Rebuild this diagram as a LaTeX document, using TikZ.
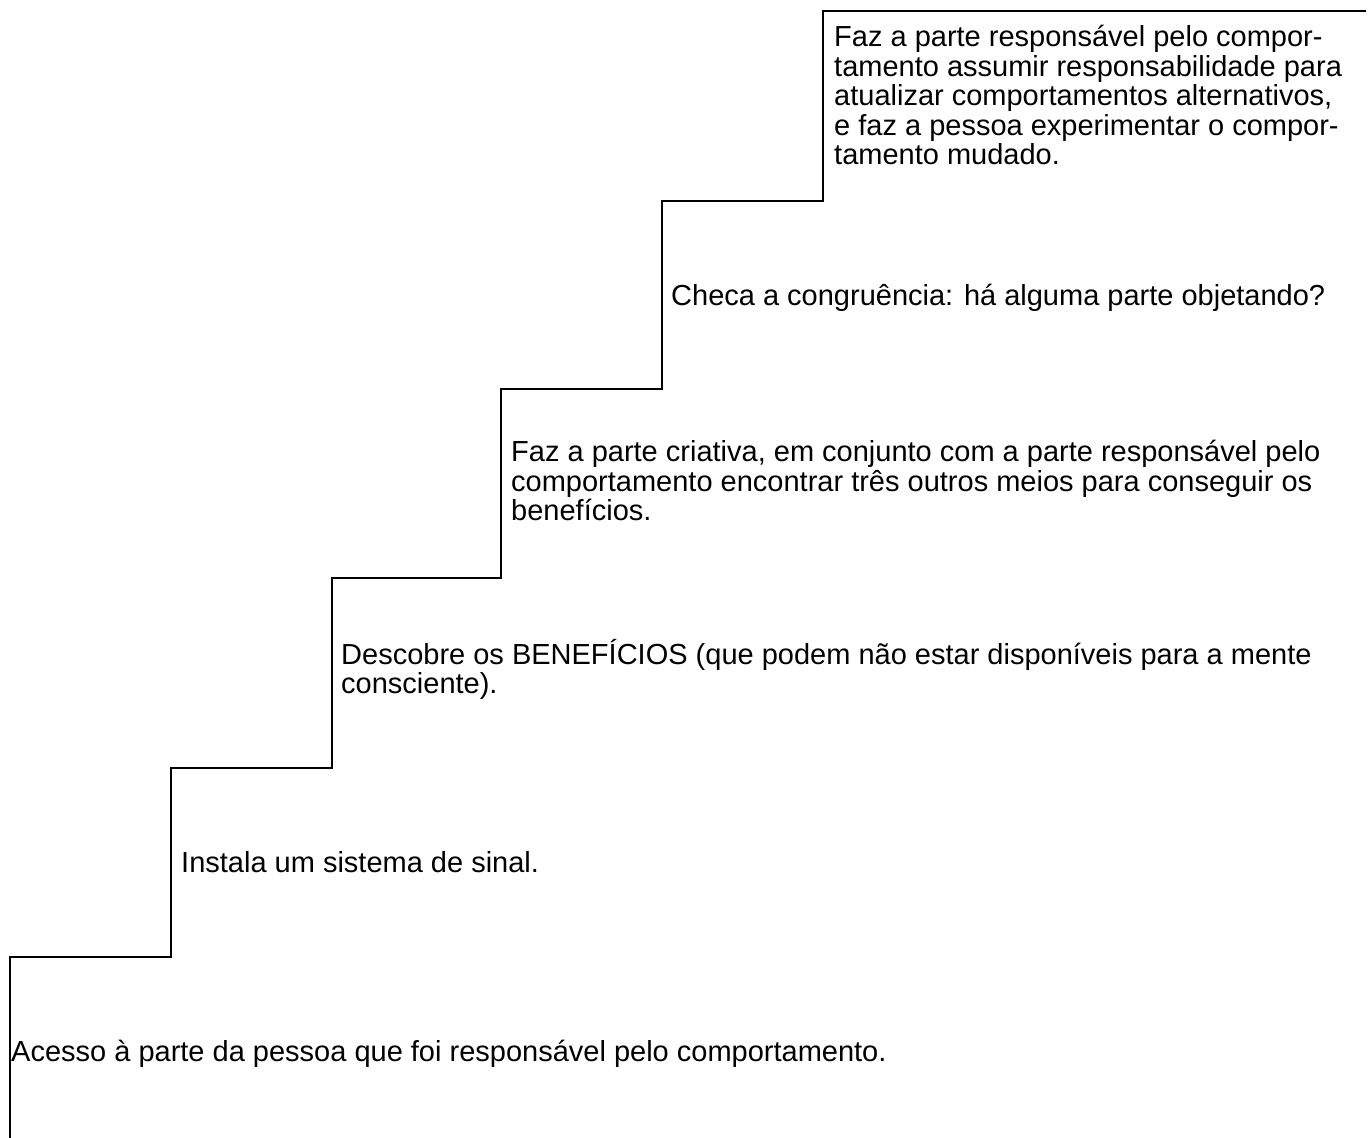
\documentclass[tikz,border=0pt]{standalone}
\usepackage{fontspec}
\setmainfont{Liberation Sans}
\begin{document}
\begin{tikzpicture}[x=1pt,y=1pt,
  steptext/.style={anchor=base west,inner sep=0pt,align=left,
    font=\fontsize{29}{29.5}\selectfont},
  stair/.style={line width=2.2pt,line join=miter}]
\useasboundingbox (0,0) rectangle (1371,1138);
% staircase corners (image y converted: y = 1138 - yimg)
\coordinate (p0) at (10,0);
\coordinate (p1) at (10,181);
\coordinate (p2) at (171,181);
\coordinate (p3) at (171,370);
\coordinate (p4) at (332,370);
\coordinate (p5) at (332,560);
\coordinate (p6) at (501,560);
\coordinate (p7) at (501,749);
\coordinate (p8) at (662,749);
\coordinate (p9) at (662,937);
\coordinate (p10) at (823,937);
\coordinate (p11) at (823,1127);
\coordinate (p12) at (1366,1127);
\draw[stair] (p0) -- (p1) -- (p2) -- (p3) -- (p4) -- (p5) -- (p6) -- (p7) -- (p8) -- (p9) -- (p10) -- (p11) -- (p12);

% anchors are at the baseline of the last line
\node[steptext] (s1) at (11,76) {Acesso à parte da pessoa que foi responsável pelo comportamento.};
\node[steptext] (s2) at (181,265) {Instala um sistema de sinal.};
\node[steptext] (s3) at (341,444) {Descobre os BENEFÍCIOS (que podem não estar disponíveis para a mente\\consciente).};
\node[steptext] (s4) at (511,617) {Faz a parte criativa, em conjunto com a parte responsável pelo\\comportamento encontrar três outros meios para conseguir os\\benefícios.};
\node[steptext] (s5) at (671,832) {Checa a congruência: há alguma parte objetando?};
\node[steptext] (s6) at (834,973) {Faz a parte responsável pelo compor-\\tamento assumir responsabilidade para\\atualizar comportamentos alternativos,\\e faz a pessoa experimentar o compor-\\tamento mudado.};
\end{tikzpicture}
\end{document}
